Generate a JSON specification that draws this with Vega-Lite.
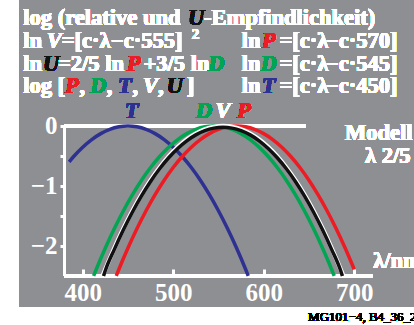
{
  "$schema": "https://vega.github.io/schema/vega-lite/v6.json",
  "width": 395,
  "height": 307,
  "autosize": {"type": "none"},
  "padding": {"left": 19, "top": 0, "right": 0, "bottom": 18},
  "background": "white",
  "view": {"fill": "#8e8f93", "stroke": null},
  "config": {
    "text": {"font": "Liberation Serif", "fontWeight": "bold", "fontSize": 22.5, "color": "white", "align": "left", "baseline": "alphabetic"},
    "axis": {"grid": false, "domain": false, "title": null, "labelFont": "Liberation Serif", "labelFontWeight": "bold", "labelColor": "white", "tickColor": "white"}
  },
  "data": {"values": [
    {"series": "T", "lambda": 385, "value": -0.597},
    {"series": "T", "lambda": 390, "value": -0.5087},
    {"series": "T", "lambda": 400, "value": -0.3533},
    {"series": "T", "lambda": 410, "value": -0.2261},
    {"series": "T", "lambda": 420, "value": -0.1272},
    {"series": "T", "lambda": 430, "value": -0.0565},
    {"series": "T", "lambda": 440, "value": -0.0141},
    {"series": "T", "lambda": 450, "value": 0},
    {"series": "T", "lambda": 460, "value": -0.0141},
    {"series": "T", "lambda": 470, "value": -0.0565},
    {"series": "T", "lambda": 480, "value": -0.1272},
    {"series": "T", "lambda": 490, "value": -0.2261},
    {"series": "T", "lambda": 500, "value": -0.3533},
    {"series": "T", "lambda": 510, "value": -0.5087},
    {"series": "T", "lambda": 520, "value": -0.6924},
    {"series": "T", "lambda": 530, "value": -0.9043},
    {"series": "T", "lambda": 540, "value": -1.1445},
    {"series": "T", "lambda": 550, "value": -1.413},
    {"series": "T", "lambda": 560, "value": -1.7097},
    {"series": "T", "lambda": 570, "value": -2.0347},
    {"series": "T", "lambda": 580, "value": -2.388},
    {"series": "T", "lambda": 583, "value": -2.4995},
    {"series": "D", "lambda": 412, "value": -2.4995},
    {"series": "D", "lambda": 415, "value": -2.388},
    {"series": "D", "lambda": 425, "value": -2.0347},
    {"series": "D", "lambda": 435, "value": -1.7097},
    {"series": "D", "lambda": 445, "value": -1.413},
    {"series": "D", "lambda": 455, "value": -1.1445},
    {"series": "D", "lambda": 465, "value": -0.9043},
    {"series": "D", "lambda": 475, "value": -0.6924},
    {"series": "D", "lambda": 485, "value": -0.5087},
    {"series": "D", "lambda": 495, "value": -0.3533},
    {"series": "D", "lambda": 505, "value": -0.2261},
    {"series": "D", "lambda": 515, "value": -0.1272},
    {"series": "D", "lambda": 525, "value": -0.0565},
    {"series": "D", "lambda": 535, "value": -0.0141},
    {"series": "D", "lambda": 545, "value": 0},
    {"series": "D", "lambda": 555, "value": -0.0141},
    {"series": "D", "lambda": 565, "value": -0.0565},
    {"series": "D", "lambda": 575, "value": -0.1272},
    {"series": "D", "lambda": 585, "value": -0.2261},
    {"series": "D", "lambda": 595, "value": -0.3533},
    {"series": "D", "lambda": 605, "value": -0.5087},
    {"series": "D", "lambda": 615, "value": -0.6924},
    {"series": "D", "lambda": 625, "value": -0.9043},
    {"series": "D", "lambda": 635, "value": -1.1445},
    {"series": "D", "lambda": 645, "value": -1.413},
    {"series": "D", "lambda": 655, "value": -1.7097},
    {"series": "D", "lambda": 665, "value": -2.0347},
    {"series": "D", "lambda": 675, "value": -2.388},
    {"series": "D", "lambda": 678, "value": -2.4995},
    {"series": "P", "lambda": 437, "value": -2.4995},
    {"series": "P", "lambda": 440, "value": -2.388},
    {"series": "P", "lambda": 450, "value": -2.0347},
    {"series": "P", "lambda": 460, "value": -1.7097},
    {"series": "P", "lambda": 470, "value": -1.413},
    {"series": "P", "lambda": 480, "value": -1.1445},
    {"series": "P", "lambda": 490, "value": -0.9043},
    {"series": "P", "lambda": 500, "value": -0.6924},
    {"series": "P", "lambda": 510, "value": -0.5087},
    {"series": "P", "lambda": 520, "value": -0.3533},
    {"series": "P", "lambda": 530, "value": -0.2261},
    {"series": "P", "lambda": 540, "value": -0.1272},
    {"series": "P", "lambda": 550, "value": -0.0565},
    {"series": "P", "lambda": 560, "value": -0.0141},
    {"series": "P", "lambda": 570, "value": 0},
    {"series": "P", "lambda": 580, "value": -0.0141},
    {"series": "P", "lambda": 590, "value": -0.0565},
    {"series": "P", "lambda": 600, "value": -0.1272},
    {"series": "P", "lambda": 610, "value": -0.2261},
    {"series": "P", "lambda": 620, "value": -0.3533},
    {"series": "P", "lambda": 630, "value": -0.5087},
    {"series": "P", "lambda": 640, "value": -0.6924},
    {"series": "P", "lambda": 650, "value": -0.9043},
    {"series": "P", "lambda": 660, "value": -1.1445},
    {"series": "P", "lambda": 670, "value": -1.413},
    {"series": "P", "lambda": 680, "value": -1.7097},
    {"series": "P", "lambda": 690, "value": -2.0347},
    {"series": "P", "lambda": 700, "value": -2.388},
    {"series": "V", "lambda": 422, "value": -2.4995},
    {"series": "V", "lambda": 425, "value": -2.388},
    {"series": "V", "lambda": 435, "value": -2.0347},
    {"series": "V", "lambda": 445, "value": -1.7097},
    {"series": "V", "lambda": 455, "value": -1.413},
    {"series": "V", "lambda": 465, "value": -1.1445},
    {"series": "V", "lambda": 475, "value": -0.9043},
    {"series": "V", "lambda": 485, "value": -0.6924},
    {"series": "V", "lambda": 495, "value": -0.5087},
    {"series": "V", "lambda": 505, "value": -0.3533},
    {"series": "V", "lambda": 515, "value": -0.2261},
    {"series": "V", "lambda": 525, "value": -0.1272},
    {"series": "V", "lambda": 535, "value": -0.0565},
    {"series": "V", "lambda": 545, "value": -0.0141},
    {"series": "V", "lambda": 555, "value": 0},
    {"series": "V", "lambda": 565, "value": -0.0141},
    {"series": "V", "lambda": 575, "value": -0.0565},
    {"series": "V", "lambda": 585, "value": -0.1272},
    {"series": "V", "lambda": 595, "value": -0.2261},
    {"series": "V", "lambda": 605, "value": -0.3533},
    {"series": "V", "lambda": 615, "value": -0.5087},
    {"series": "V", "lambda": 625, "value": -0.6924},
    {"series": "V", "lambda": 635, "value": -0.9043},
    {"series": "V", "lambda": 645, "value": -1.1445},
    {"series": "V", "lambda": 655, "value": -1.413},
    {"series": "V", "lambda": 665, "value": -1.7097},
    {"series": "V", "lambda": 675, "value": -2.0347},
    {"series": "V", "lambda": 685, "value": -2.388},
    {"series": "V", "lambda": 688, "value": -2.4995},
    {"series": "U", "lambda": 423, "value": -2.5},
    {"series": "U", "lambda": 425, "value": -2.409},
    {"series": "U", "lambda": 435, "value": -2.0557},
    {"series": "U", "lambda": 445, "value": -1.7307},
    {"series": "U", "lambda": 455, "value": -1.434},
    {"series": "U", "lambda": 465, "value": -1.1655},
    {"series": "U", "lambda": 475, "value": -0.9253},
    {"series": "U", "lambda": 485, "value": -0.7134},
    {"series": "U", "lambda": 495, "value": -0.5297},
    {"series": "U", "lambda": 505, "value": -0.3743},
    {"series": "U", "lambda": 515, "value": -0.2471},
    {"series": "U", "lambda": 525, "value": -0.1482},
    {"series": "U", "lambda": 535, "value": -0.0775},
    {"series": "U", "lambda": 545, "value": -0.0351},
    {"series": "U", "lambda": 555, "value": -0.021},
    {"series": "U", "lambda": 565, "value": -0.0351},
    {"series": "U", "lambda": 575, "value": -0.0775},
    {"series": "U", "lambda": 585, "value": -0.1482},
    {"series": "U", "lambda": 595, "value": -0.2471},
    {"series": "U", "lambda": 605, "value": -0.3743},
    {"series": "U", "lambda": 615, "value": -0.5297},
    {"series": "U", "lambda": 625, "value": -0.7134},
    {"series": "U", "lambda": 635, "value": -0.9253},
    {"series": "U", "lambda": 645, "value": -1.1655},
    {"series": "U", "lambda": 655, "value": -1.434},
    {"series": "U", "lambda": 665, "value": -1.7307},
    {"series": "U", "lambda": 675, "value": -2.0557},
    {"series": "U", "lambda": 685, "value": -2.409},
    {"series": "U", "lambda": 687, "value": -2.5}
  ]},
  "encoding": {
    "x": {"field": "lambda", "type": "quantitative", "scale": {"domain": [329.6, 766.1], "nice": false, "zero": false},
      "axis": {"orient": "bottom", "offset": -31, "values": [400, 500, 600, 700], "tickSize": -7, "tickWidth": 3, "labelPadding": 11, "labelFontSize": 25, "labelFlush": false}},
    "y": {"field": "value", "type": "quantitative", "scale": {"domain": [-3.0167, 2.1], "nice": false, "zero": false},
      "axis": {"orient": "left", "offset": -46, "values": [0, -0.5, -1, -1.5, -2], "tickSize": 5, "tickWidth": 3, "labelPadding": 3, "labelFontSize": 25, "labelFlush": false, "labelExpr": "datum.value % 1 === 0 ? datum.label : ''"}}
  },
  "layer": [
    {"mark": {"type": "rule", "color": "white", "strokeWidth": 2.5}, "encoding": {"x": {"datum": 380}, "y": {"datum": 0}, "y2": {"datum": -2.5}}},
    {"mark": {"type": "rule", "color": "white", "strokeWidth": 3}, "encoding": {"y": {"datum": -2.5}, "x": {"datum": 380}, "x2": {"datum": 720}}},
    {"mark": {"type": "rule", "color": "white", "strokeWidth": 3}, "encoding": {"y": {"datum": 0}, "x": {"datum": 380}, "x2": {"datum": 646}}},
    {"transform": [{"filter": "datum.series === 'T'"}], "mark": {"type": "line", "color": "#2e3192", "strokeWidth": 3.5, "interpolate": "monotone"}},
    {"transform": [{"filter": "datum.series === 'D'"}], "mark": {"type": "line", "color": "#00a651", "strokeWidth": 3.5, "interpolate": "monotone"}},
    {"transform": [{"filter": "datum.series === 'P'"}], "mark": {"type": "line", "color": "#ed1c24", "strokeWidth": 3.5, "interpolate": "monotone"}},
    {"transform": [{"filter": "datum.series === 'V'"}], "mark": {"type": "line", "color": "white", "strokeWidth": 4.5, "interpolate": "monotone"}},
    {"transform": [{"filter": "datum.series === 'U'"}], "mark": {"type": "line", "color": "#111111", "strokeWidth": 3.5, "interpolate": "monotone"}},

    {"mark": {"type": "text", "text": "log (relative und"}, "encoding": {"x": {"datum": 334.4}, "y": {"datum": 1.683}}},
    {"mark": {"type": "text", "text": "U", "fontStyle": "italic", "color": "#111111"}, "encoding": {"x": {"datum": 516.4}, "y": {"datum": 1.683}}},
    {"mark": {"type": "text", "text": "-Empfindlichkeit)"}, "encoding": {"x": {"datum": 534.0}, "y": {"datum": 1.683}}},

    {"mark": {"type": "text", "text": "ln"}, "encoding": {"x": {"datum": 334.4}, "y": {"datum": 1.3}}},
    {"mark": {"type": "text", "text": "V", "fontStyle": "italic"}, "encoding": {"x": {"datum": 360.4}, "y": {"datum": 1.3}}},
    {"mark": {"type": "text", "text": "=[c·λ"}, "encoding": {"x": {"datum": 376.8}, "y": {"datum": 1.3}}},
    {"mark": {"type": "text", "text": "−c·555]"}, "encoding": {"x": {"datum": 431.3}, "y": {"datum": 1.3}}},
    {"mark": {"type": "text", "text": "2", "fontSize": 15}, "encoding": {"x": {"datum": 520.4}, "y": {"datum": 1.45}}},
    {"mark": {"type": "text", "text": "ln"}, "encoding": {"x": {"datum": 575.7}, "y": {"datum": 1.3}}},
    {"mark": {"type": "text", "text": "P", "fontStyle": "italic", "color": "#ed1c24"}, "encoding": {"x": {"datum": 597.8}, "y": {"datum": 1.3}}},
    {"mark": {"type": "text", "text": "=[c·λ"}, "encoding": {"x": {"datum": 617.5}, "y": {"datum": 1.3}}},
    {"mark": {"type": "text", "text": "−c·570]"}, "encoding": {"x": {"datum": 668.8}, "y": {"datum": 1.3}}},

    {"mark": {"type": "text", "text": "ln"}, "encoding": {"x": {"datum": 334.4}, "y": {"datum": 0.917}}},
    {"mark": {"type": "text", "text": "U", "fontStyle": "italic", "color": "#111111"}, "encoding": {"x": {"datum": 356.1}, "y": {"datum": 0.917}}},
    {"mark": {"type": "text", "text": "=2/5 ln"}, "encoding": {"x": {"datum": 372.7}, "y": {"datum": 0.917}}},
    {"mark": {"type": "text", "text": "P", "fontStyle": "italic", "color": "#ed1c24"}, "encoding": {"x": {"datum": 448.6}, "y": {"datum": 0.917}}},
    {"mark": {"type": "text", "text": "+3/5 ln"}, "encoding": {"x": {"datum": 467.2}, "y": {"datum": 0.917}}},
    {"mark": {"type": "text", "text": "D", "fontStyle": "italic", "color": "#00a651"}, "encoding": {"x": {"datum": 538.5}, "y": {"datum": 0.917}}},
    {"mark": {"type": "text", "text": "ln"}, "encoding": {"x": {"datum": 575.7}, "y": {"datum": 0.917}}},
    {"mark": {"type": "text", "text": "D", "fontStyle": "italic", "color": "#00a651"}, "encoding": {"x": {"datum": 596.5}, "y": {"datum": 0.917}}},
    {"mark": {"type": "text", "text": "=[c·λ"}, "encoding": {"x": {"datum": 617.5}, "y": {"datum": 0.917}}},
    {"mark": {"type": "text", "text": "−c·545]"}, "encoding": {"x": {"datum": 668.8}, "y": {"datum": 0.917}}},

    {"mark": {"type": "text", "text": "log ["}, "encoding": {"x": {"datum": 334.4}, "y": {"datum": 0.542}}},
    {"mark": {"type": "text", "text": "P", "fontStyle": "italic", "color": "#ed1c24"}, "encoding": {"x": {"datum": 380.4}, "y": {"datum": 0.542}}},
    {"mark": {"type": "text", "text": ","}, "encoding": {"x": {"datum": 396.5}, "y": {"datum": 0.542}}},
    {"mark": {"type": "text", "text": "D", "fontStyle": "italic", "color": "#00a651"}, "encoding": {"x": {"datum": 408.1}, "y": {"datum": 0.542}}},
    {"mark": {"type": "text", "text": ","}, "encoding": {"x": {"datum": 426.5}, "y": {"datum": 0.542}}},
    {"mark": {"type": "text", "text": "T", "fontStyle": "italic", "color": "#2e3192"}, "encoding": {"x": {"datum": 439.0}, "y": {"datum": 0.542}}},
    {"mark": {"type": "text", "text": ","}, "encoding": {"x": {"datum": 455.0}, "y": {"datum": 0.542}}},
    {"mark": {"type": "text", "text": "V", "fontStyle": "italic"}, "encoding": {"x": {"datum": 466.6}, "y": {"datum": 0.542}}},
    {"mark": {"type": "text", "text": ","}, "encoding": {"x": {"datum": 483.2}, "y": {"datum": 0.542}}},
    {"mark": {"type": "text", "text": "U", "fontStyle": "italic", "color": "#111111"}, "encoding": {"x": {"datum": 492.8}, "y": {"datum": 0.542}}},
    {"mark": {"type": "text", "text": "]"}, "encoding": {"x": {"datum": 514.9}, "y": {"datum": 0.542}}},
    {"mark": {"type": "text", "text": "ln"}, "encoding": {"x": {"datum": 575.7}, "y": {"datum": 0.542}}},
    {"mark": {"type": "text", "text": "T", "fontStyle": "italic", "color": "#2e3192"}, "encoding": {"x": {"datum": 597.8}, "y": {"datum": 0.542}}},
    {"mark": {"type": "text", "text": "=[c·λ"}, "encoding": {"x": {"datum": 617.5}, "y": {"datum": 0.542}}},
    {"mark": {"type": "text", "text": "−c·450]"}, "encoding": {"x": {"datum": 668.8}, "y": {"datum": 0.542}}},

    {"mark": {"type": "text", "text": "T", "fontStyle": "italic", "color": "#2e3192", "align": "center"}, "encoding": {"x": {"datum": 454.1}, "y": {"datum": 0.133}}},
    {"mark": {"type": "text", "text": "D", "fontStyle": "italic", "color": "#00a651", "align": "center"}, "encoding": {"x": {"datum": 534.0}, "y": {"datum": 0.133}}},
    {"mark": {"type": "text", "text": "V", "fontStyle": "italic", "align": "center"}, "encoding": {"x": {"datum": 555.0}, "y": {"datum": 0.133}}},
    {"mark": {"type": "text", "text": "P", "fontStyle": "italic", "color": "#ed1c24", "align": "center"}, "encoding": {"x": {"datum": 578.2}, "y": {"datum": 0.133}}},

    {"mark": {"type": "text", "text": "Modell"}, "encoding": {"x": {"datum": 689.8}, "y": {"datum": -0.233}}},
    {"mark": {"type": "text", "text": "λ 2/5"}, "encoding": {"x": {"datum": 711.9}, "y": {"datum": -0.622}}},
    {"mark": {"type": "text", "text": "λ/nm"}, "encoding": {"x": {"datum": 721.1}, "y": {"datum": -2.372}}},
    {"mark": {"type": "text", "text": "MG101−4, B4_36_2", "fontWeight": "normal", "fontSize": 13, "color": "black"}, "encoding": {"x": {"datum": 649.1}, "y": {"datum": -3.245}}}
  ]
}
